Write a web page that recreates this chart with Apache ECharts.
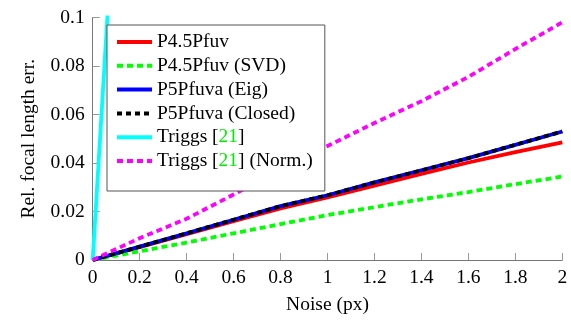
<!DOCTYPE html>
<html>
<head>
<meta charset="utf-8">
<script src="https://cdn.jsdelivr.net/npm/echarts@6/dist/echarts.min.js"></script>
<style>
html,body{margin:0;padding:0;background:#fff;}
#c{width:571px;height:320px;}
</style>
</head>
<body>
<div id="c"></div>
<script>
var noise = [0, 0.2, 0.4, 0.6, 0.8, 1.0, 1.2, 1.4, 1.6, 1.8, 2.0];
var p45 = [0, 0.0053, 0.0107, 0.016, 0.0213, 0.0258, 0.0307, 0.0355, 0.0402, 0.0445, 0.0485];
var p45svd = [0, 0.0036, 0.0072, 0.011, 0.0148, 0.0185, 0.0218, 0.025, 0.028, 0.0313, 0.0344];
var p5eig = [0, 0.0055, 0.011, 0.0166, 0.0222, 0.0267, 0.032, 0.037, 0.042, 0.0475, 0.053];
var p5closed = [0, 0.0055, 0.011, 0.0166, 0.0222, 0.0267, 0.032, 0.037, 0.042, 0.0475, 0.053];
var triggs = [0, 0.32, null, null, null, null, null, null, null, null, null];
var triggsNorm = [0, 0.009, 0.017, 0.027, 0.037, 0.047, 0.0565, 0.0655, 0.0755, 0.087, 0.098];
var xTicks = [0, 0.2, 0.4, 0.6, 0.8, 1, 1.2, 1.4, 1.6, 1.8, 2];
var yTicks = [0, 0.02, 0.04, 0.06, 0.08, 0.1];
var names = ['P4.5Pfuv', 'P4.5Pfuv (SVD)', 'P5Pfuva (Eig)', 'P5Pfuva (Closed)', 'Triggs [21]', 'Triggs [21] (Norm.)'];

function pairs(arr) {
  var out = [];
  for (var i = 0; i < noise.length; i++) out.push([noise[i], arr[i]]);
  return out;
}
var FONT = '"Liberation Serif", "DejaVu Serif", serif';
var FS = 19.5;
function mk(name, data, color, type, w) {
  return {
    name: name, type: 'line', data: pairs(data), showSymbol: false, symbol: 'none',
    connectNulls: false, clip: true, animation: false,
    lineStyle: { color: color, width: w || 3.8, type: type, cap: 'butt' },
    itemStyle: { color: color }
  };
}
var chart = echarts.init(document.getElementById('c'), null, { renderer: 'canvas' });
chart.setOption({
  animation: false,
  backgroundColor: '#fff',
  grid: { left: 92.7, right: 8.7, top: 17.5, bottom: 56.7, containLabel: false },
  xAxis: {
    type: 'value', min: 0, max: 2, interval: 0.2,
    name: 'Noise (px)', nameLocation: 'middle', nameGap: 35,
    nameTextStyle: { fontFamily: FONT, fontSize: FS, color: '#000' },
    axisLine: { show: true, lineStyle: { color: '#777', width: 1 } },
    axisTick: { show: true, inside: true, length: 7, lineStyle: { color: '#999', width: 1 } },
    axisLabel: { fontFamily: FONT, fontSize: FS, color: '#000', margin: 8,
      formatter: function (v) { return String(Math.round(v * 10) / 10); } },
    splitLine: { show: false }
  },
  yAxis: {
    type: 'value', min: 0, max: 0.1, interval: 0.02,
    name: 'Rel. focal length err.', nameLocation: 'middle', nameGap: 54,
    nameTextStyle: { fontFamily: FONT, fontSize: FS, color: '#000' },
    axisLine: { show: true, lineStyle: { color: '#777', width: 1 } },
    axisTick: { show: true, inside: true, length: 7, lineStyle: { color: '#999', width: 1 } },
    axisLabel: { fontFamily: FONT, fontSize: FS, color: '#000', margin: 8,
      formatter: function (v) { return String(Math.round(v * 100) / 100); } },
    splitLine: { show: false }
  },
  legend: {
    orient: 'vertical', left: 107, top: 25,
    data: names,
    itemWidth: 35, itemHeight: 14, itemGap: 3.8,
    padding: [7, 12, 20, 8],
    borderColor: '#555', borderWidth: 1, backgroundColor: '#fff',
    itemStyle: { color: 'rgba(0,0,0,0)', borderWidth: 0, opacity: 0 },
    lineStyle: { width: 4 },
    textStyle: { fontFamily: FONT, fontSize: FS, color: '#000', lineHeight: 20,
      rich: {
        a: { fontFamily: FONT, fontSize: FS, color: '#000' },
        g: { fontFamily: FONT, fontSize: FS, color: '#00ee00' }
      } },
    formatter: function (n) {
      if (n.indexOf('[21]') >= 0) {
        var parts = n.split('21');
        return '{a|' + parts[0] + '}{g|21}{a|' + parts[1] + '}';
      }
      return n;
    }
  },
  series: [
    mk(names[0], p45, '#ff0000', 'solid'),
    mk(names[1], p45svd, '#00ff00', [6, 4]),
    mk(names[2], p5eig, '#0000ff', 'solid'),
    mk(names[3], p5closed, '#000000', [5, 4]),
    mk(names[4], triggs, '#00ffff', 'solid'),
    mk(names[5], triggsNorm, '#ff00ff', [6, 4])
  ]
});
</script>
</body>
</html>
